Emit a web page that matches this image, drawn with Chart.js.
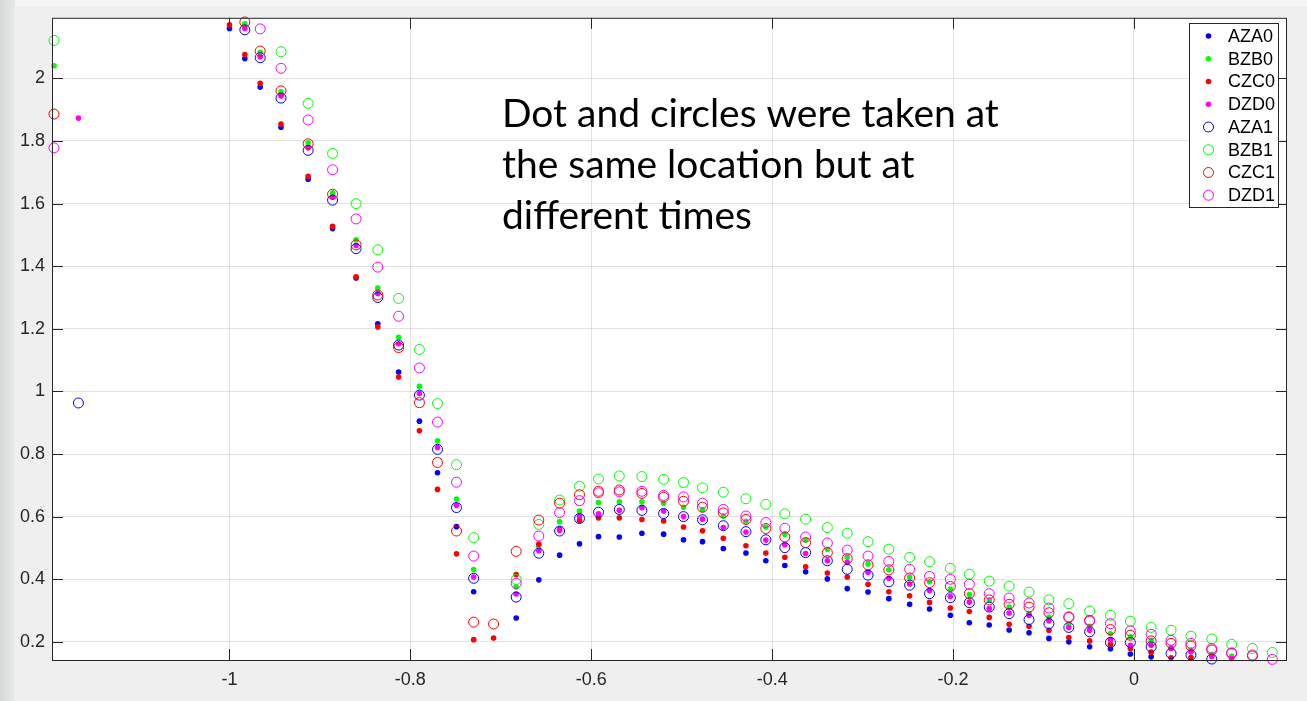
<!DOCTYPE html>
<html>
<head>
  <meta charset="UTF-8" />
  <title>Dot and circles</title>
  <script src="https://cdn.jsdelivr.net/npm/chart.js"></script>
  <style>
    html, body { margin: 0; padding: 0; background: #efefef; overflow: hidden; }
    canvas { display: block; }
  </style>
</head>
<body>
  <canvas id="chart" width="1307" height="701"></canvas>

  <script>
    // positions on the x axis (shared by all series, null = no point)
    const xValues = [
      -1.194, -1.167, -1.000, -0.983, -0.966, -0.943, -0.913, -0.886, -0.860, -0.836,
      -0.813, -0.790, -0.770, -0.749, -0.730, -0.708, -0.683, -0.658, -0.635, -0.613,
      -0.592, -0.569, -0.544, -0.520, -0.498, -0.477, -0.454, -0.429, -0.407, -0.386,
      -0.363, -0.339, -0.317, -0.294, -0.271, -0.248, -0.226, -0.203, -0.182, -0.160,
      -0.138, -0.116, -0.094, -0.072, -0.049, -0.026, -0.004, 0.019, 0.041, 0.063,
      0.086, 0.108, 0.131, 0.153
    ];

    const aza0 = [
      null, null, 2.159, 2.063, 1.972, 1.844, 1.678, 1.520, 1.362, 1.216,
      1.062, 0.905, 0.740, 0.568, 0.360, null, 0.276, 0.398, 0.477, 0.513,
      0.536, 0.535, 0.547, 0.544, 0.526, 0.520, 0.498, 0.484, 0.459, 0.444,
      0.424, 0.401, 0.370, 0.359, 0.338, 0.320, 0.305, 0.285, 0.261, 0.254,
      0.238, 0.229, 0.211, 0.200, 0.184, 0.178, 0.161, 0.152, null, null,
      null, null, null, null
    ];
    const bzb0 = [
      2.040, null, null, 2.174, 2.083, 1.957, 1.794, 1.634, 1.484, 1.330,
      1.173, 1.016, 0.842, 0.656, 0.431, null, 0.375, 0.505, 0.584, 0.618,
      0.645, 0.647, 0.647, 0.643, 0.630, 0.622, 0.602, 0.585, 0.567, 0.544,
      0.525, 0.496, 0.470, 0.449, 0.430, 0.406, 0.392, 0.369, 0.351, 0.334,
      0.311, 0.290, 0.278, 0.255, 0.250, 0.226, 0.216, 0.205, 0.182, 0.174,
      0.160, 0.155, null, null
    ];
    const czc0 = [
      null, null, 2.171, 2.076, 1.984, 1.854, 1.687, 1.527, 1.366, 1.206,
      1.046, 0.874, 0.687, 0.481, 0.207, 0.212, 0.415, 0.512, 0.560, 0.588,
      0.596, 0.596, 0.591, 0.586, 0.567, 0.555, 0.531, 0.507, 0.484, 0.470,
      0.440, 0.420, 0.407, 0.384, 0.360, 0.347, 0.326, 0.308, 0.297, 0.278,
      0.256, 0.250, 0.237, 0.214, 0.203, 0.192, 0.179, 0.167, 0.149, 0.150,
      null, null, null, null
    ];
    const dzd0 = [
      null, 1.873, null, 2.159, 2.069, 1.944, 1.778, 1.620, 1.466, 1.313,
      1.152, 0.993, 0.821, 0.636, 0.407, null, 0.353, 0.491, 0.556, 0.602,
      0.609, 0.620, 0.628, 0.618, 0.600, 0.592, 0.565, 0.551, 0.525, 0.510,
      0.482, 0.459, 0.454, 0.422, 0.403, 0.385, 0.364, 0.345, 0.327, 0.306,
      0.292, 0.285, 0.267, 0.246, 0.237, 0.207, 0.189, 0.189, 0.179, 0.168,
      0.153, 0.147, null, null
    ];
    const aza1 = [
      null, 0.963, null, 2.155, 2.066, 1.937, 1.770, 1.611, 1.456, 1.300,
      1.148, 0.988, 0.815, 0.629, 0.403, null, 0.343, 0.483, 0.554, 0.594,
      0.614, 0.623, 0.620, 0.610, 0.600, 0.590, 0.571, 0.552, 0.526, 0.501,
      0.485, 0.459, 0.432, 0.413, 0.392, 0.381, 0.354, 0.341, 0.325, 0.311,
      0.290, 0.271, 0.258, 0.246, 0.232, 0.198, 0.198, 0.184, 0.163, 0.158,
      0.145, null, null, null
    ];
    const bzb1 = [
      2.121, null, null, null, null, 2.085, 1.920, 1.760, 1.600, 1.452,
      1.297, 1.134, 0.961, 0.766, 0.533, null, 0.399, 0.575, 0.653, 0.697,
      0.720, 0.730, 0.728, 0.719, 0.709, 0.692, 0.678, 0.657, 0.639, 0.609,
      0.592, 0.565, 0.547, 0.520, 0.496, 0.470, 0.456, 0.435, 0.416, 0.394,
      0.378, 0.359, 0.334, 0.322, 0.298, 0.285, 0.266, 0.246, 0.237, 0.218,
      0.209, 0.192, 0.179, 0.166
    ];
    const czc1 = [
      1.886, null, null, 2.180, 2.087, 1.960, 1.791, 1.630, 1.468, 1.308,
      1.140, 0.964, 0.773, 0.554, 0.263, 0.257, 0.489, 0.589, 0.643, 0.670,
      0.681, 0.685, 0.674, 0.662, 0.649, 0.630, 0.612, 0.591, 0.562, 0.535,
      0.517, 0.485, 0.466, 0.446, 0.430, 0.404, 0.389, 0.377, 0.354, 0.334,
      0.320, 0.311, 0.293, 0.278, 0.269, 0.239, 0.221, 0.203, 0.195, 0.187,
      0.174, 0.163, 0.155, null
    ];
    const dzd1 = [
      1.778, null, null, null, 2.158, 2.032, 1.867, 1.708, 1.551, 1.397,
      1.240, 1.075, 0.902, 0.710, 0.474, null, 0.387, 0.538, 0.613, 0.651,
      0.676, 0.679, 0.681, 0.668, 0.663, 0.643, 0.623, 0.602, 0.581, 0.563,
      0.535, 0.516, 0.493, 0.474, 0.457, 0.432, 0.409, 0.400, 0.384, 0.354,
      0.340, 0.324, 0.308, 0.280, 0.266, 0.258, 0.235, 0.224, 0.205, 0.195,
      0.179, 0.165, 0.158, 0.144
    ];

    const seriesNames = ['AZA0', 'BZB0', 'CZC0', 'DZD0', 'AZA1', 'BZB1', 'CZC1', 'DZD1'];
    const seriesValues = [aza0, bzb0, czc0, dzd0, aza1, bzb1, czc1, dzd1];
    const seriesColors = ['#0000ff', '#00ff00', '#ff0000', '#ff00ff', '#0000ff', '#00ff00', '#ff0000', '#ff00ff'];
    const seriesFilled = [true, true, true, true, false, false, false, false];

    const xTicks = [-1, -0.8, -0.6, -0.4, -0.2, 0];
    const yTicks = [0.2, 0.4, 0.6, 0.8, 1, 1.2, 1.4, 1.6, 1.8, 2];

    const noteLines = [
      'Dot and circles were taken at',
      'the same location but at',
      'different times'
    ];

    const axisColor = '#262626';
    const tickFont = '"Liberation Sans", Arial, sans-serif';

    function toPoints(ys) {
      const pts = [];
      for (let i = 0; i < xValues.length; i++) {
        if (ys[i] !== null) pts.push({ x: xValues[i], y: ys[i] });
      }
      return pts;
    }

    const datasets = seriesNames.map((name, i) => ({
      label: name,
      data: toPoints(seriesValues[i]),
      order: seriesNames.length - i, // later series on top, like MATLAB
      clip: false,
      showLine: false,
      pointStyle: 'circle',
      pointRadius: seriesFilled[i] ? 2.8 : 5,
      pointHoverRadius: seriesFilled[i] ? 2.8 : 5,
      pointBorderWidth: seriesFilled[i] ? 0 : 1,
      pointBackgroundColor: seriesFilled[i] ? seriesColors[i] : 'rgba(0,0,0,0)',
      pointBorderColor: seriesColors[i]
    }));

    // figure background + white axes area
    const backdrop = {
      id: 'backdrop',
      beforeDraw(chart) {
        const ctx = chart.ctx;
        const a = chart.chartArea;
        ctx.save();
        ctx.fillStyle = '#efefef';
        ctx.fillRect(0, 0, chart.width, chart.height);
        ctx.fillStyle = '#f5f5f5';
        ctx.fillRect(0, 0, chart.width, 6);
        const g = ctx.createLinearGradient(0, 0, 15, 0);
        g.addColorStop(0, '#d6d7d8');
        g.addColorStop(1, '#e8e9e9');
        ctx.fillStyle = g;
        ctx.fillRect(0, 0, 15, chart.height);
        ctx.fillStyle = '#ffffff';
        ctx.fillRect(a.left, a.top, a.right - a.left, a.bottom - a.top);
        ctx.restore();
      }
    };

    // box, inward ticks, legend and the note
    const decorations = {
      id: 'decorations',
      afterDatasetsDraw(chart) {
        const ctx = chart.ctx;
        const a = chart.chartArea;
        const xs = chart.scales.x, ys = chart.scales.y;
        const tl = 11;
        ctx.save();
        ctx.strokeStyle = axisColor;
        ctx.lineWidth = 1;
        ctx.beginPath();
        xTicks.forEach(v => {
          const px = Math.round(xs.getPixelForValue(v)) + 0.5;
          ctx.moveTo(px, a.bottom); ctx.lineTo(px, a.bottom - tl);
          ctx.moveTo(px, a.top); ctx.lineTo(px, a.top + tl);
        });
        yTicks.forEach(v => {
          const py = Math.round(ys.getPixelForValue(v)) + 0.5;
          ctx.moveTo(a.left, py); ctx.lineTo(a.left + tl, py);
          ctx.moveTo(a.right, py); ctx.lineTo(a.right - tl, py);
        });
        ctx.stroke();
        ctx.strokeRect(a.left + 0.5, a.top + 0.5, a.right - a.left - 1, a.bottom - a.top);

        // legend
        const lx = 1189.5, ly = 23.5, lw = 89, lh = 184;
        ctx.fillStyle = '#ffffff';
        ctx.fillRect(lx, ly, lw, lh);
        ctx.strokeStyle = axisColor;
        ctx.strokeRect(lx, ly, lw, lh);
        ctx.font = '18px ' + tickFont;
        ctx.textBaseline = 'middle';
        ctx.textAlign = 'left';
        seriesNames.forEach((name, i) => {
          const cy = 36 + i * 22.75;
          ctx.beginPath();
          if (seriesFilled[i]) {
            ctx.fillStyle = seriesColors[i];
            ctx.arc(1208.5, cy, 2.8, 0, Math.PI * 2);
            ctx.fill();
          } else {
            ctx.strokeStyle = seriesColors[i];
            ctx.arc(1208.5, cy, 5, 0, Math.PI * 2);
            ctx.stroke();
          }
          ctx.fillStyle = '#000000';
          ctx.fillText(name, 1228, cy + 1);
        });

        // note
        ctx.font = '38px Lato, "Open Sans", sans-serif';
        const w = ctx.measureText(noteLines[0]).width;
        const size = 38 * 497 / w;
        ctx.font = size.toFixed(2) + 'px Lato, "Open Sans", sans-serif';
        ctx.fillStyle = '#000000';
        ctx.textBaseline = 'alphabetic';
        const baselines = [127, 178, 229];
        noteLines.forEach((line, i) => ctx.fillText(line, 502, baselines[i]));
        ctx.restore();
      }
    };

    new Chart(document.getElementById('chart'), {
      type: 'scatter',
      data: { datasets: datasets },
      options: {
        responsive: false,
        animation: false,
        devicePixelRatio: 1,
        layout: { padding: { top: 13, right: 20, left: 0, bottom: 0 } },
        plugins: {
          legend: { display: false },
          tooltip: { enabled: false }
        },
        scales: {
          x: {
            type: 'linear',
            min: -1.1962,
            max: 0.1692,
            afterFit: s => { s.height = 41; },
            afterBuildTicks: s => { s.ticks = xTicks.map(v => ({ value: v })); },
            grid: { color: 'rgba(38,38,38,0.13)', drawTicks: false },
            border: { display: false },
            ticks: {
              padding: 9,
              color: axisColor,
              font: { family: tickFont, size: 18 },
              callback: v => String(Math.round(v * 10) / 10)
            }
          },
          y: {
            type: 'linear',
            min: 0.142,
            max: 2.1934,
            afterFit: s => { s.width = 52; },
            afterBuildTicks: s => { s.ticks = yTicks.map(v => ({ value: v })); },
            grid: { color: 'rgba(38,38,38,0.13)', drawTicks: false },
            border: { display: false },
            ticks: {
              padding: 7,
              color: axisColor,
              font: { family: tickFont, size: 18 },
              callback: v => String(Math.round(v * 10) / 10)
            }
          }
        }
      },
      plugins: [backdrop, decorations]
    });
  </script>
</body>
</html>
